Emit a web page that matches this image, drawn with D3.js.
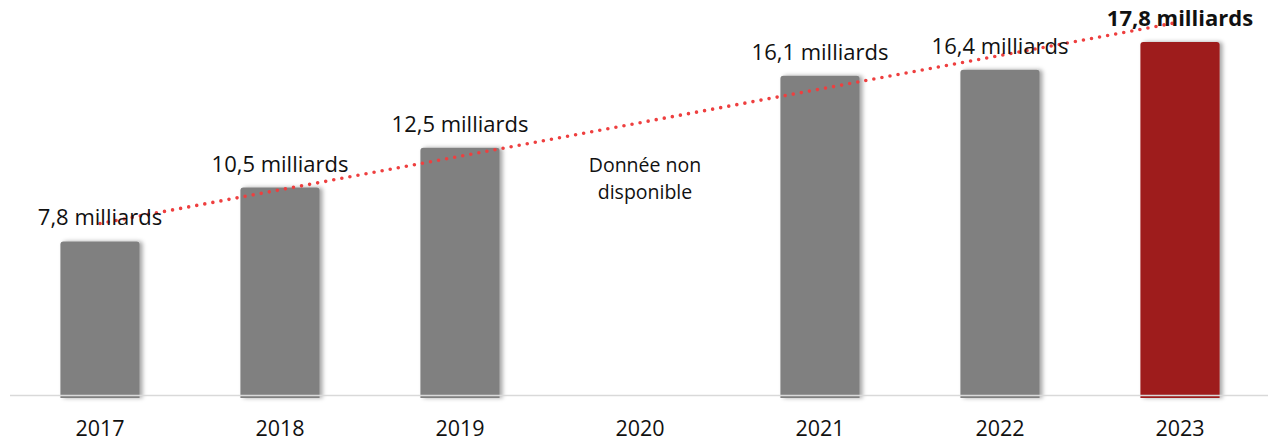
<!DOCTYPE html>
<html><head><meta charset="utf-8">
<script src="https://cdn.jsdelivr.net/npm/d3@7/dist/d3.min.js"></script>
<style>body{margin:0;background:#fff}svg{display:block}text{font-family:"Open Sans","Noto Sans",sans-serif;fill:#111}</style>
</head><body><svg id="c" width="1268" height="443"></svg>
<script>
const years = ["2017","2018","2019","2020","2021","2022","2023"];
const values = [7.8, 10.5, 12.5, null, 16.1, 16.4, 17.8];
const labels = ["7,8 milliards","10,5 milliards","12,5 milliards","","16,1 milliards","16,4 milliards","17,8 milliards"];
const missingLabel = ["Donnée non", "disponible"];
const trendYears = ["2017","2023"];
const trendValues = [8.7, 18.8];

const svg = d3.select("#c");
const defs = svg.append("defs");
const f = defs.append("filter").attr("id","sh").attr("x","-20%").attr("y","-10%").attr("width","150%").attr("height","120%");
f.append("feDropShadow").attr("dx",3).attr("dy",0).attr("stdDeviation",2).attr("flood-color","#000").attr("flood-opacity",0.35);

const x = d3.scaleBand().domain(years).range([10,1270]).paddingInner(0.56).paddingOuter(0.28);
const y = d3.scaleLinear().domain([0,19.9]).range([397,0]);

const data = years.map((yr,i)=>({yr, v:values[i], lab:labels[i]}));
const bars = data.filter(d=>d.v!=null);

function barPath(d){
  const x0 = x(d.yr), w = x.bandwidth(), y0 = y(d.v), yb = 398, r = 3;
  return `M${x0},${yb}V${y0+r}Q${x0},${y0} ${x0+r},${y0}H${x0+w-r}Q${x0+w},${y0} ${x0+w},${y0+r}V${yb}Z`;
}
svg.append("g").selectAll("path").data(bars).join("path")
  .attr("d", barPath)
  .attr("fill", d=>d.yr==="2023" ? "#9e1b1b" : "#808080")
  .attr("filter","url(#sh)");

svg.append("line").attr("x1",10).attr("x2",1268).attr("y1",395.5).attr("y2",395.5)
  .attr("stroke","#d9d9d9").attr("stroke-width",1.5);

// trendline
svg.append("line")
  .attr("x1", x(trendYears[0])+x.bandwidth()/2).attr("y1", y(trendValues[0]))
  .attr("x2", x(trendYears[1])+x.bandwidth()/2).attr("y2", y(trendValues[1]))
  .attr("stroke","#ee3f3f").attr("stroke-width",3.6).attr("stroke-linecap","round")
  .attr("stroke-dasharray","0 8.2");

// value labels
svg.append("g").selectAll("text").data(bars).join("text")
  .attr("x", d=>x(d.yr)+x.bandwidth()/2)
  .attr("y", d=>y(d.v)-16)
  .attr("text-anchor","middle")
  .attr("font-size", 22)
  .attr("font-weight", d=>d.yr==="2023" ? 700 : 400)
  .text(d=>d.lab);

// missing
const mx = x("2020")+x.bandwidth()/2 + 5;
svg.append("text").attr("x",mx).attr("y",172).attr("text-anchor","middle").attr("font-size",19.5).text(missingLabel[0]);
svg.append("text").attr("x",mx).attr("y",199).attr("text-anchor","middle").attr("font-size",19.5).text(missingLabel[1]);

// x axis labels
const ax = svg.append("g").attr("transform","translate(0,396)").call(d3.axisBottom(x).tickSize(0).tickPadding(25));
ax.select(".domain").remove();
ax.selectAll("text").attr("font-size",21.5).attr("font-family","'Open Sans','Noto Sans',sans-serif").attr("fill","#111");
</script></body></html>
